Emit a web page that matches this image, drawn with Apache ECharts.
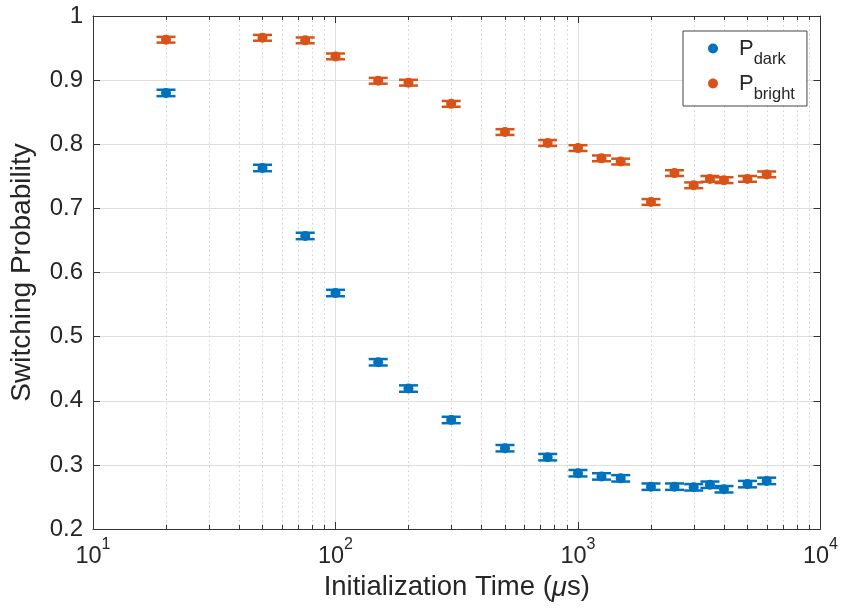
<!DOCTYPE html>
<html>
<head>
<meta charset="utf-8">
<script src="https://cdn.jsdelivr.net/npm/echarts@6/dist/echarts.min.js"></script>
<style>
  html, body { margin: 0; padding: 0; background: #fff; }
  #chart { width: 841px; height: 608px; }
</style>
</head>
<body>
<div id="chart"></div>
<script>
// Initialization times (µs)
const times = [20, 50, 75, 100, 150, 200, 300, 500, 750, 1000, 1250, 1500, 2000, 2500, 3000, 3500, 4000, 5000, 6000];
// Switching probability, dark state
const pDark = [0.880, 0.763, 0.657, 0.568, 0.460, 0.419, 0.370, 0.326, 0.312, 0.287, 0.282, 0.279, 0.266, 0.266, 0.265, 0.269, 0.262, 0.270, 0.275];
const errDark = [0.005, 0.005, 0.005, 0.005, 0.005, 0.005, 0.005, 0.005, 0.005, 0.005, 0.005, 0.005, 0.005, 0.005, 0.005, 0.005, 0.005, 0.005, 0.005];
// Switching probability, bright state
const pBright = [0.963, 0.966, 0.962, 0.937, 0.899, 0.896, 0.863, 0.819, 0.802, 0.794, 0.778, 0.773, 0.710, 0.755, 0.736, 0.746, 0.744, 0.746, 0.753];
const errBright = [0.0045, 0.0045, 0.0045, 0.0045, 0.0045, 0.0045, 0.0045, 0.0045, 0.0045, 0.0045, 0.0045, 0.0045, 0.0045, 0.0045, 0.0045, 0.0045, 0.0045, 0.0045, 0.0045];

const seriesNames = ['dark', 'bright'];
const colors = ['#0072BD', '#D95319'];
const xMin = 10, xMax = 10000;
const yMin = 0.2, yMax = 1, yStep = 0.1;

// minor log ticks: 2..9 within each decade
const minorTicks = [];
for (let d = xMin; d < xMax; d *= 10) {
  for (let k = 2; k <= 9; k++) minorTicks.push([d * k, yMin]);
}

const FONT = '"Liberation Sans", Arial, Helvetica, sans-serif';
const TXT = '#262626';
const AXIS = '#333333';

function errorBars(params, api) {
  const x = api.value(0), y = api.value(1), e = api.value(2);
  const lo = api.coord([x, y - e]);
  const hi = api.coord([x, y + e]);
  const hw = 9.5;
  const style = { stroke: api.visual('color'), lineWidth: 2.5 };
  return {
    type: 'group',
    children: [
      { type: 'line', shape: { x1: lo[0], y1: lo[1], x2: hi[0], y2: hi[1] }, style },
      { type: 'line', shape: { x1: lo[0] - hw, y1: lo[1], x2: lo[0] + hw, y2: lo[1] }, style },
      { type: 'line', shape: { x1: hi[0] - hw, y1: hi[1], x2: hi[0] + hw, y2: hi[1] }, style }
    ]
  };
}

function minorGrid(params, api) {
  const cs = params.coordSys;
  const x = Math.round(api.coord([api.value(0), yMin])[0]) + 0.5;
  const top = cs.y, bottom = cs.y + cs.height;
  return {
    type: 'group',
    children: [
      { type: 'line', shape: { x1: x, y1: top, x2: x, y2: bottom },
        style: { stroke: '#cfcfcf', lineWidth: 1, lineDash: [1.5, 3] } },
      { type: 'line', shape: { x1: x, y1: bottom, x2: x, y2: bottom - 4 },
        style: { stroke: AXIS, lineWidth: 1 } },
      { type: 'line', shape: { x1: x, y1: top, x2: x, y2: top + 4 },
        style: { stroke: AXIS, lineWidth: 1 } }
    ]
  };
}

const chart = echarts.init(document.getElementById('chart'), null, { renderer: 'canvas' });

const baseX = {
  type: 'log', logBase: 10, min: xMin, max: xMax,
  axisLine: { show: true, onZero: false, lineStyle: { color: AXIS, width: 1 } },
  axisTick: { show: true, inside: true, length: 7, lineStyle: { color: AXIS } },
  minorTick: { show: false }
};
const baseY = {
  type: 'value', min: yMin, max: yMax, interval: yStep,
  axisLine: { show: true, lineStyle: { color: AXIS, width: 1 } },
  axisTick: { show: true, inside: true, length: 7, lineStyle: { color: AXIS } }
};

chart.setOption({
  animation: false,
  backgroundColor: '#ffffff',
  textStyle: { fontFamily: FONT },
  grid: { left: 92, right: 20, top: 16, bottom: 79, containLabel: false },
  xAxis: [
    Object.assign({}, baseX, {
      position: 'bottom',
      name: '{a|Initialization Time (}{m|μ}{a|s)}',
      nameLocation: 'middle',
      nameGap: 37,
      nameTextStyle: {
        rich: {
          a: { fontFamily: FONT, fontSize: 27.5, color: TXT },
          m: { fontFamily: FONT, fontSize: 27.5, color: TXT, fontStyle: 'italic' }
        }
      },
      splitLine: { show: true, lineStyle: { color: '#dedede', width: 1 } },
      axisLabel: {
        show: true, margin: 8,
        formatter: function (v) {
          return '{b|10}{e|' + Math.round(Math.log10(v)) + '}';
        },
        rich: {
          b: { fontFamily: FONT, fontSize: 23.5, lineHeight: 23, color: TXT, padding: [8, 0, 0, 0], verticalAlign: 'top' },
          e: { fontFamily: FONT, fontSize: 16, lineHeight: 16, color: TXT, verticalAlign: 'top' }
        }
      }
    }),
    Object.assign({}, baseX, {
      position: 'top',
      axisLabel: { show: false },
      splitLine: { show: false }
    })
  ],
  yAxis: [
    Object.assign({}, baseY, {
      position: 'left',
      name: 'Switching Probability',
      nameLocation: 'middle',
      nameGap: 57,
      nameTextStyle: { fontFamily: FONT, fontSize: 28, color: TXT },
      splitLine: { show: true, lineStyle: { color: '#dedede', width: 1 } },
      axisLabel: {
        margin: 10, fontFamily: FONT, fontSize: 24, color: TXT,
        formatter: function (v) { return String(+v.toFixed(1)); }
      }
    }),
    Object.assign({}, baseY, {
      position: 'right',
      axisLabel: { show: false },
      splitLine: { show: false }
    })
  ],
  legend: {
    data: seriesNames,
    orient: 'vertical',
    left: 683, top: 31,
    itemWidth: 10, itemHeight: 10, itemGap: 5,
    icon: 'circle',
    padding: [7, 12, 3, 25],
    borderColor: '#444', borderWidth: 1,
    backgroundColor: '#ffffff',
    formatter: function (name) { return '{p|P}{s|' + name + '}'; },
    textStyle: {
      rich: {
        p: { fontFamily: FONT, fontSize: 22, lineHeight: 21, color: TXT, padding: [0, 0, 0, 16], verticalAlign: 'top' },
        s: { fontFamily: FONT, fontSize: 16.5, lineHeight: 15, color: TXT, padding: [13, 0, 0, 0], verticalAlign: 'top' }
      }
    }
  },
  series: [
    {
      name: 'minorGrid', type: 'custom', silent: true, z: 0,
      xAxisIndex: 0, yAxisIndex: 0,
      renderItem: minorGrid,
      encode: { x: 0, y: 1 },
      data: minorTicks
    },
    {
      name: 'errDark', type: 'custom', silent: true, z: 2,
      renderItem: errorBars,
      itemStyle: { color: colors[0] },
      encode: { x: 0, y: 1 },
      data: times.map((t, i) => [t, pDark[i], errDark[i]])
    },
    {
      name: 'errBright', type: 'custom', silent: true, z: 2,
      renderItem: errorBars,
      itemStyle: { color: colors[1] },
      encode: { x: 0, y: 1 },
      data: times.map((t, i) => [t, pBright[i], errBright[i]])
    },
    {
      name: seriesNames[0], type: 'scatter', z: 3,
      symbol: 'circle', symbolSize: 10,
      itemStyle: { color: colors[0], opacity: 1 },
      data: times.map((t, i) => [t, pDark[i]])
    },
    {
      name: seriesNames[1], type: 'scatter', z: 3,
      symbol: 'circle', symbolSize: 10,
      itemStyle: { color: colors[1], opacity: 1 },
      data: times.map((t, i) => [t, pBright[i]])
    }
  ]
});
</script>
</body>
</html>
